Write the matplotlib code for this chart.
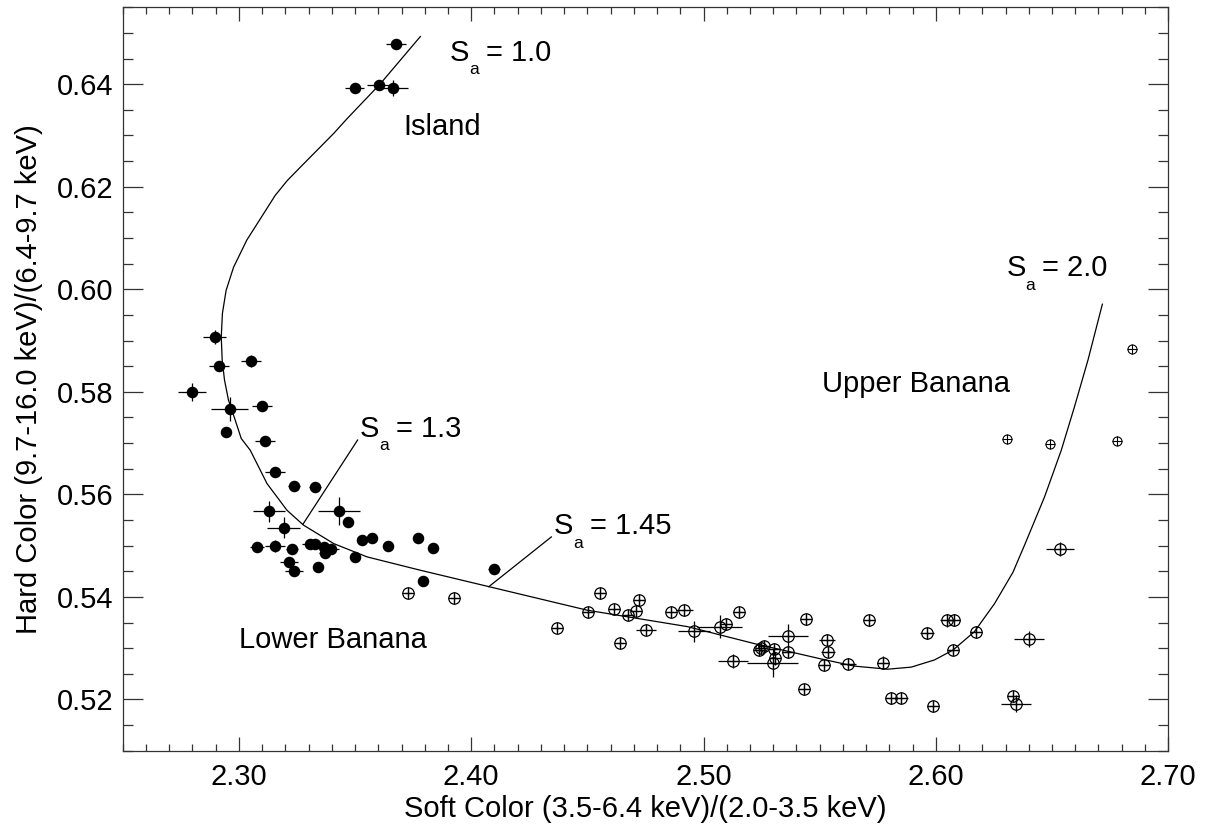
import matplotlib
matplotlib.use("Agg")
import matplotlib.pyplot as plt
from matplotlib.ticker import MultipleLocator, FormatStrFormatter

plt.rcParams['font.family'] = ['Liberation Sans', 'DejaVu Sans']

# Island + lower banana (filled points)
filled_x = [2.3678, 2.3498, 2.3602, 2.3664,
            2.2895, 2.2915, 2.3050, 2.2799, 2.2960, 2.3099, 2.2945, 2.3113,
            2.3156, 2.3237, 2.3326, 2.3131, 2.3432, 2.3470, 2.3192, 2.3079,
            2.3156, 2.3230, 2.3307, 2.3329, 2.3365, 2.3372, 2.3397, 2.3215,
            2.3237, 2.3342, 2.3501, 2.3529, 2.3572, 2.3642, 2.3770, 2.3836,
            2.3793, 2.4100]
filled_y = [0.6478, 0.6393, 0.6398, 0.6393,
            0.5907, 0.5850, 0.5860, 0.5800, 0.5767, 0.5773, 0.5721, 0.5704,
            0.5643, 0.5617, 0.5615, 0.5567, 0.5567, 0.5546, 0.5535, 0.5498,
            0.5499, 0.5493, 0.5503, 0.5503, 0.5498, 0.5485, 0.5493, 0.5468,
            0.5451, 0.5458, 0.5477, 0.5511, 0.5515, 0.5500, 0.5515, 0.5495,
            0.5431, 0.5455]
filled_xerr = [0.0043, 0.0040, 0.0050, 0.0065,
               0.0050, 0.0043, 0.0043, 0.0060, 0.0078, 0.0043, 0.0020, 0.0043,
               0.0043, 0.0026, 0.0026, 0.0069, 0.0090, 0.0022, 0.0073, 0.0030,
               0.0043, 0.0026, 0.0035, 0.0026, 0.0035, 0.0026, 0.0035, 0.0039,
               0.0039, 0.0022, 0.0022, 0.0022, 0.0022, 0.0022, 0.0022, 0.0022,
               0.0022, 0.0026]
filled_yerr = [0.0010, 0.0008, 0.0010, 0.0016,
               0.0014, 0.0010, 0.0012, 0.0018, 0.0023, 0.0010, 0.0008, 0.0010,
               0.0008, 0.0008, 0.0008, 0.0020, 0.0027, 0.0008, 0.0021, 0.0008,
               0.0012, 0.0008, 0.0010, 0.0008, 0.0010, 0.0010, 0.0008, 0.0010,
               0.0008, 0.0008, 0.0008, 0.0008, 0.0008, 0.0008, 0.0008, 0.0008,
               0.0008, 0.0008]

# Upper banana (open circled-plus points)
open_x = [2.3728, 2.3927, 2.4369, 2.4504, 2.4556, 2.4613, 2.4639, 2.4675,
          2.4711, 2.4721, 2.4754, 2.4860, 2.4918, 2.4960, 2.5069, 2.5097,
          2.5151, 2.5128, 2.5237, 2.5248, 2.5261, 2.5303, 2.5309, 2.5297,
          2.5363, 2.5365, 2.5431, 2.5441, 2.5531, 2.5534, 2.5517, 2.5623,
          2.5712, 2.5773, 2.5807, 2.5850, 2.5962, 2.5988, 2.6046, 2.6078,
          2.6073, 2.6174, 2.6332, 2.6345, 2.6401, 2.6533]
open_y = [0.5408, 0.5398, 0.5340, 0.5370, 0.5408, 0.5376, 0.5311, 0.5365,
          0.5372, 0.5393, 0.5335, 0.5370, 0.5374, 0.5333, 0.5342, 0.5347,
          0.5370, 0.5275, 0.5296, 0.5300, 0.5304, 0.5299, 0.5280, 0.5271,
          0.5324, 0.5293, 0.5220, 0.5356, 0.5316, 0.5292, 0.5268, 0.5270,
          0.5354, 0.5272, 0.5202, 0.5203, 0.5330, 0.5187, 0.5354, 0.5355,
          0.5296, 0.5332, 0.5207, 0.5192, 0.5318, 0.5493]
open_xerr = [0.0017, 0.0017, 0.0017, 0.0022, 0.0022, 0.0022, 0.0017, 0.0022,
             0.0022, 0.0022, 0.0043, 0.0022, 0.0035, 0.0069, 0.0095, 0.0026,
             0.0022, 0.0065, 0.0022, 0.0022, 0.0022, 0.0022, 0.0026, 0.0108,
             0.0086, 0.0026, 0.0022, 0.0022, 0.0035, 0.0030, 0.0022, 0.0035,
             0.0022, 0.0026, 0.0022, 0.0030, 0.0030, 0.0022, 0.0026, 0.0026,
             0.0022, 0.0022, 0.0022, 0.0065, 0.0065, 0.0060]
open_yerr = [0.0008, 0.0008, 0.0008, 0.0010, 0.0010, 0.0010, 0.0008, 0.0010,
             0.0010, 0.0010, 0.0010, 0.0010, 0.0010, 0.0020, 0.0023, 0.0012,
             0.0010, 0.0014, 0.0010, 0.0010, 0.0010, 0.0010, 0.0012, 0.0027,
             0.0023, 0.0012, 0.0010, 0.0010, 0.0010, 0.0010, 0.0010, 0.0010,
             0.0010, 0.0012, 0.0010, 0.0010, 0.0012, 0.0010, 0.0012, 0.0012,
             0.0010, 0.0010, 0.0010, 0.0016, 0.0016, 0.0014]

# small upper-right points
small_x = [2.6307, 2.6490, 2.6781, 2.6843]
small_y = [0.5708, 0.5699, 0.5704, 0.5883]

# model track (traced)
track_x = [2.3781, 2.3609, 2.3466, 2.3408, 2.3264, 2.3208, 2.3156, 2.3107,
           2.3034, 2.2977, 2.2945, 2.2929, 2.2924, 2.2928, 2.2938, 2.2955,
           2.2984, 2.3010, 2.3049, 2.3121, 2.3207, 2.3278, 2.3408, 2.3552,
           2.3781, 2.4076, 2.4500, 2.4931, 2.5218, 2.5506, 2.5649, 2.5793,
           2.5894, 2.5994, 2.6073, 2.6166, 2.6253, 2.6332, 2.6382, 2.6468,
           2.6540, 2.6597, 2.6655, 2.6717]
track_y = [0.6493, 0.6401, 0.6333, 0.6304, 0.6238, 0.6212, 0.6183, 0.6148,
           0.6096, 0.6043, 0.5998, 0.5953, 0.5907, 0.5862, 0.5823, 0.5784,
           0.5745, 0.5709, 0.5686, 0.5621, 0.5569, 0.5540, 0.5504, 0.5478,
           0.5452, 0.5420, 0.5374, 0.5342, 0.5309, 0.5279, 0.5265, 0.5259,
           0.5263, 0.5277, 0.5296, 0.5332, 0.5387, 0.5448, 0.5501, 0.5595,
           0.5686, 0.5771, 0.5862, 0.5971]

# S_a labels: value, anchor (x, y) of the "S" baseline
sa_values = ['1.0', '1.3', '1.45', '2.0']
sa_x = [2.3908, 2.3520, 2.4356, 2.6303]
sa_y = [0.6446, 0.5712, 0.5522, 0.6025]

# region labels
region_names = ['Island', 'Upper Banana', 'Lower Banana']
region_x = [2.3709, 2.5509, 2.3001]
region_y = [0.6300, 0.5800, 0.5300]

fs = 21


def sa_label(ax, x, y, value):
    ax.text(x, y, 'S', fontsize=fs, va='baseline')
    ax.annotate('a', (x, y), xytext=(14, -9.5), textcoords='offset points',
                fontsize=12.5, va='baseline')
    ax.annotate('= ' + value, (x, y), xytext=(26, 0), textcoords='offset points',
                fontsize=fs, va='baseline')


fig = plt.figure(figsize=(12.13, 8.33), dpi=100)
ax = fig.add_axes([0.1012, 0.0988, 0.8618, 0.8924])

ax.plot(track_x, track_y, color='black', lw=0.9)

ax.errorbar(filled_x, filled_y, xerr=filled_xerr, yerr=filled_yerr, fmt='o',
            color='black', ms=7.3, elinewidth=0.9, capsize=0)
ax.errorbar(open_x, open_y, xerr=open_xerr, yerr=open_yerr, fmt='o',
            color='black', mfc='none', mec='black', mew=0.9, ms=8.2,
            elinewidth=0.9, capsize=0)
ax.plot(open_x, open_y, '+', color='black', ms=8.2, mew=0.9)
ax.plot(small_x, small_y, 'o', mfc='none', mec='black', mew=0.8, ms=6.5)
ax.plot(small_x, small_y, '+', color='black', ms=6.5, mew=0.8)

# leader lines for the S_a labels
ax.plot([2.3511, 2.3276], [0.5706, 0.5542], color='black', lw=0.9)
ax.plot([2.4345, 2.4076], [0.5517, 0.5420], color='black', lw=0.9)

for v, x, y in zip(sa_values, sa_x, sa_y):
    sa_label(ax, x, y, v)
for name, x, y in zip(region_names, region_x, region_y):
    ax.text(x, y, name, fontsize=fs, va='baseline')

ax.set_xlim(2.25, 2.70)
ax.set_ylim(0.51, 0.655)
ax.xaxis.set_major_locator(MultipleLocator(0.1))
ax.xaxis.set_minor_locator(MultipleLocator(0.01))
ax.yaxis.set_major_locator(MultipleLocator(0.02))
ax.yaxis.set_minor_locator(MultipleLocator(0.005))
ax.xaxis.set_major_formatter(FormatStrFormatter('%.2f'))
ax.yaxis.set_major_formatter(FormatStrFormatter('%.2f'))

ax.tick_params(axis='both', which='both', direction='in', top=True, right=True,
               labelsize=fs, width=0.9, color='#333333')
ax.tick_params(axis='x', which='major', length=10, pad=8.5)
ax.tick_params(axis='x', which='minor', length=5)
ax.tick_params(axis='y', which='major', length=14.5, pad=7)
ax.tick_params(axis='y', which='minor', length=7.5)
for s in ax.spines.values():
    s.set_linewidth(0.9)
    s.set_color('#333333')

ax.set_xlabel('Soft Color (3.5-6.4 keV)/(2.0-3.5 keV)', fontsize=fs, labelpad=3)
ax.set_ylabel('Hard Color (9.7-16.0 keV)/(6.4-9.7 keV)', fontsize=fs, labelpad=10)

fig.savefig('out.png', dpi=100)
